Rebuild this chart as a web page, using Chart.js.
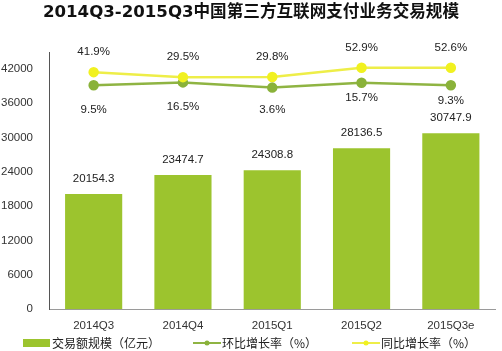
<!DOCTYPE html>
<html>
<head>
<meta charset="utf-8">
<script src="https://cdn.jsdelivr.net/npm/chart.js@4.4.0/dist/chart.umd.min.js"></script>
<style>
  html, body { margin: 0; padding: 0; background: #fff; }
  #wrap { width: 502px; height: 351px; position: relative; }
</style>
</head>
<body>
<div id="wrap"><canvas id="chart-main"></canvas></div>
<script>
// ── Data ─────────────────────────────────
const categories = ['2014Q3', '2014Q4', '2015Q1', '2015Q2', '2015Q3e'];
const volume     = [20154.3, 23474.7, 24308.8, 28136.5, 30747.9];   // 亿元
const qoqGrowth  = [9.5, 16.5, 3.6, 15.7, 9.3];                     // 环比 %
const yoyGrowth  = [41.9, 29.5, 29.8, 52.9, 52.6];                  // 同比 %
const yTicks     = [0, 6000, 12000, 18000, 24000, 30000, 36000, 42000];

const LATIN = "'Liberation Sans', 'Noto Sans CJK SC', sans-serif";
const CJK   = "'Noto Sans CJK SC', 'Liberation Sans', sans-serif";

const BAR_GREEN   = '#9cc42e';
const LINE_GREEN  = '#8fb443';
const DOT_GREEN   = '#8ab23a';
const LINE_YELLOW = '#eeee48';
const DOT_YELLOW  = '#f1f120';

// ── Value labels above/below marks ───────
const valueLabels = {
  id: 'valueLabels',
  afterDatasetsDraw(chart) {
    const ctx = chart.ctx;
    ctx.save();
    ctx.font = '11.5px ' + LATIN;
    ctx.fillStyle = '#222';
    ctx.textAlign = 'center';
    ctx.textBaseline = 'middle';
    chart.data.datasets.forEach((ds, di) => {
      const meta = chart.getDatasetMeta(di);
      const offs = ds.labelOffset;
      meta.data.forEach((el, i) => {
        const v = ds.data[i];
        const txt = ds.type === 'bar' ? v.toFixed(1) : v.toFixed(1) + '%';
        const dy = Array.isArray(offs) ? offs[i] : offs;
        ctx.fillText(txt, el.x, el.y + dy);
      });
    });
    ctx.restore();
  }
};

// ── Bottom legend (drawn by hand for exact spacing) ─
const bottomLegend = {
  id: 'bottomLegend',
  afterDraw(chart) {
    const ctx = chart.ctx;
    const xs = [23, 193, 352];
    const y = 343;
    ctx.save();
    ctx.font = '12px ' + CJK;
    ctx.textBaseline = 'middle';
    ctx.textAlign = 'left';
    chart.data.datasets.forEach((ds, i) => {
      const x = xs[i];
      if (ds.type === 'bar') {
        ctx.fillStyle = ds.backgroundColor;
        ctx.fillRect(x, y - 4, 27, 8);
      } else {
        ctx.strokeStyle = ds.borderColor;
        ctx.lineWidth = 2;
        ctx.beginPath();
        ctx.moveTo(x, y);
        ctx.lineTo(x + 28, y);
        ctx.stroke();
        ctx.fillStyle = ds.pointBackgroundColor;
        ctx.beginPath();
        ctx.arc(x + 14, y, 2.5, 0, Math.PI * 2);
        ctx.fill();
      }
      ctx.fillStyle = '#222';
      ctx.fillText(ds.label, x + 29, y);
    });
    ctx.restore();
  }
};

const chart = new Chart(document.getElementById('chart-main'), {
  data: {
    labels: categories,
    datasets: [
      {
        type: 'bar',
        label: '交易额规模（亿元）',
        data: volume,
        backgroundColor: BAR_GREEN,
        barPercentage: 0.64,
        categoryPercentage: 1,
        yAxisID: 'y',
        order: 2,
        labelOffset: -15,
      },
      {
        type: 'line',
        label: '环比增长率（%）',
        data: qoqGrowth,
        borderColor: LINE_GREEN,
        pointBackgroundColor: DOT_GREEN,
        pointBorderColor: DOT_GREEN,
        borderWidth: 2.5,
        pointRadius: 4,
        tension: 0,
        yAxisID: 'y2',
        order: 1,
        labelOffset: [25, 24, 22, 15, 16],
      },
      {
        type: 'line',
        label: '同比增长率（%）',
        data: yoyGrowth,
        borderColor: LINE_YELLOW,
        pointBackgroundColor: DOT_YELLOW,
        pointBorderColor: DOT_YELLOW,
        borderWidth: 2.5,
        pointRadius: 4,
        tension: 0,
        yAxisID: 'y2',
        order: 0,
        labelOffset: -20,
      },
    ],
  },
  options: {
    responsive: true,
    maintainAspectRatio: false,
    animation: false,
    layout: { padding: { left: 0, right: 0, top: 0, bottom: 8 } },
    plugins: {
      legend: { display: false },
      tooltip: { enabled: false },
      title: {
        display: true,
        text: '2014Q3-2015Q3中国第三方互联网支付业务交易规模',
        color: '#111',
        font: { family: "'DejaVu Sans', 'Noto Sans CJK SC', sans-serif", size: 16.6, weight: 'bold' },
        padding: { top: 3, bottom: 30 },
      },
    },
    scales: {
      x: {
        grid: { display: false, drawTicks: false },
        border: { display: true, color: '#9a9a9a' },
        ticks: { font: { family: LATIN, size: 11.5 }, color: '#333', padding: 10 },
      },
      y: {
        position: 'left',
        min: 0,
        max: 44800,
        grid: { display: false, drawTicks: false },
        border: { display: true, color: '#555' },
        ticks: {
          font: { family: LATIN, size: 11.5 },
          color: '#333',
          padding: 16,
          callback: v => String(v),
        },
        afterBuildTicks: s => { s.ticks = yTicks.map(v => ({ value: v })); },
        afterFit: s => { s.width = 49; },
      },
      y2: {
        display: false,
        min: -545,
        max: 89.5,
      },
    },
  },
  plugins: [valueLabels, bottomLegend],
});
</script>
</body>
</html>
